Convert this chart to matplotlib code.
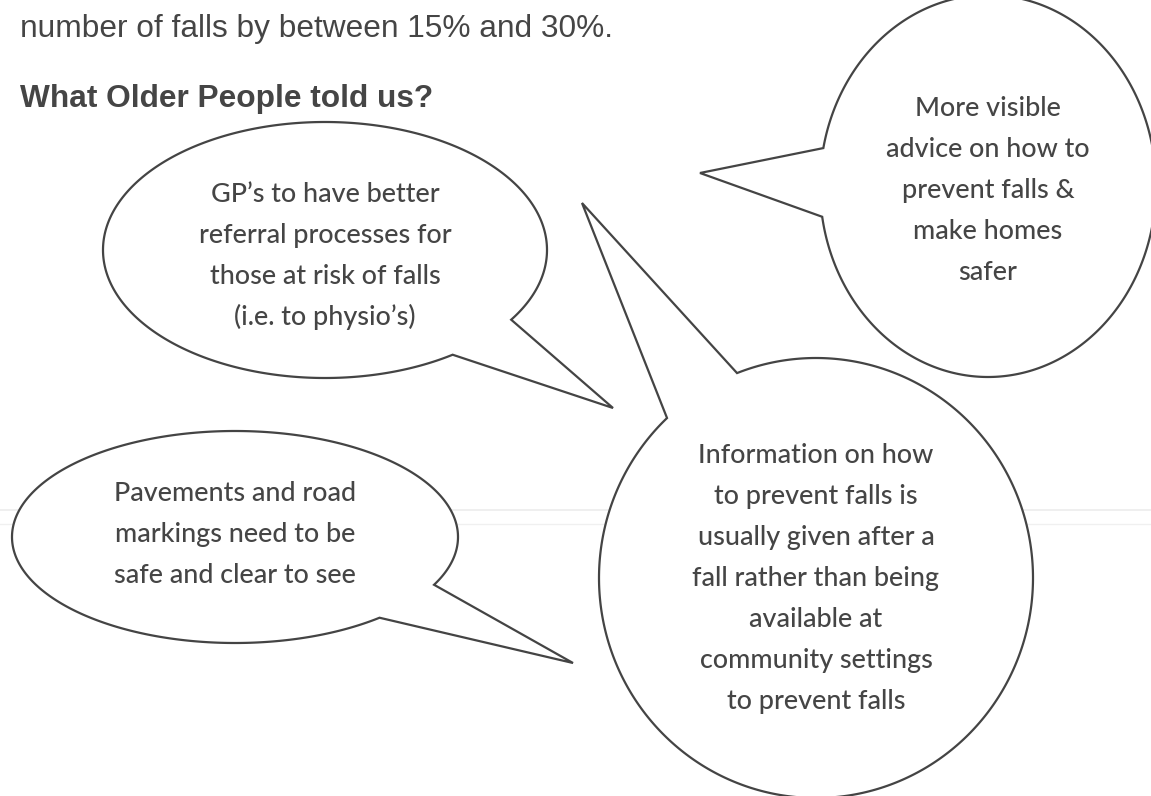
import numpy as np
import matplotlib
matplotlib.use("Agg")
import matplotlib.pyplot as plt
from matplotlib.patches import Polygon

# ---- content ----
intro_line = "number of falls by between 15% and 30%."
heading = "What Older People told us?"

bubble_gp = ["GP\u2019s to have better", "referral processes for",
             "those at risk of falls", "(i.e. to physio\u2019s)"]
bubble_advice = ["More visible", "advice on how to", "prevent falls &",
                 "make homes", "safer"]
bubble_pavements = ["Pavements and road", "markings need to be",
                    "safe and clear to see"]
bubble_info = ["Information on how", "to prevent falls is",
               "usually given after a", "fall rather than being",
               "available at", "community settings", "to prevent falls"]

# ---- geometry (pixels, y downwards) ----
W, H = 1151, 796
bubbles = [
    dict(lines=bubble_gp, c=(325, 250), r=(222, 128),
         base=((512, 320), (453, 355)), tip=(613, 408), tc=(325, 255)),
    dict(lines=bubble_advice, c=(988, 186), r=(168, 191),
         base=((823, 148), (821, 217)), tip=(700, 173), tc=(988, 189)),
    dict(lines=bubble_pavements, c=(235, 537), r=(223, 106),
         base=((435, 585), (380, 618)), tip=(573, 663), tc=(235, 533)),
    dict(lines=bubble_info, c=(816, 578), r=(217, 220),
         base=((737, 373), (667, 418)), tip=(582, 203), tc=(816, 577)),
]

LINE_COL = "#444444"
TEXT_COL = "#454545"

fig = plt.figure(figsize=(W / 100, H / 100), dpi=100)
ax = fig.add_axes([0, 0, 1, 1])
ax.set_xlim(0, W)
ax.set_ylim(H, 0)
ax.axis("off")
renderer = fig.canvas.get_renderer()


def fit_size(text, family, weight, target_w):
    t = ax.text(0, 0, text, fontsize=20, family=family, weight=weight)
    w = t.get_window_extent(renderer).width
    t.remove()
    return 20 * target_w / w


# faint scan lines
ax.plot([0, W], [510, 510], color="#ececec", lw=1.2, zorder=0)
ax.plot([0, W], [524, 524], color="#f0f0f0", lw=1.0, zorder=0)

# intro text and heading
fs_body = fit_size(intro_line, "Liberation Sans", "normal", 593)
ax.text(20, 37, intro_line, fontsize=fs_body, family="Liberation Sans",
        color=TEXT_COL, va="baseline", ha="left")
fs_head = fit_size(heading, "Liberation Sans", "bold", 413)
ax.text(20, 107, heading, fontsize=fs_head, family="Liberation Sans",
        weight="bold", color=TEXT_COL, va="baseline", ha="left")


def bubble_path(c, r, base, tip):
    cx, cy = c
    rx, ry = r
    a1 = np.arctan2((base[0][1] - cy) / ry, (base[0][0] - cx) / rx)
    a2 = np.arctan2((base[1][1] - cy) / ry, (base[1][0] - cx) / rx)
    d = (a1 - a2) % (2 * np.pi)
    if d < np.pi:
        start, span = a1, (a2 - a1) % (2 * np.pi)
    else:
        start, span = a2, (a1 - a2) % (2 * np.pi)
    t = start + np.linspace(0, span, 400)
    pts = np.column_stack([cx + rx * np.cos(t), cy + ry * np.sin(t)])
    return np.vstack([pts, [tip]])


BUB_WEIGHT = 500
fs_bub = fit_size("referral processes for", "Lato", BUB_WEIGHT, 253)
px_per_pt = 100 / 72
spacing = 41

for b in bubbles:
    pts = bubble_path(b["c"], b["r"], b["base"], b["tip"])
    ax.add_patch(Polygon(pts, closed=True, facecolor="white",
                         edgecolor=LINE_COL, lw=1.6, zorder=2,
                         joinstyle="miter"))
    n = len(b["lines"])
    tx, ty = b["tc"]
    for i, line in enumerate(b["lines"]):
        yc = ty + (i - (n - 1) / 2) * spacing
        ax.text(tx, yc + 0.33 * fs_bub * px_per_pt, line, fontsize=fs_bub,
                family="Lato", weight=BUB_WEIGHT, color=TEXT_COL,
                ha="center", va="baseline", zorder=3)

fig.savefig("out.png", dpi=100, facecolor="white")
